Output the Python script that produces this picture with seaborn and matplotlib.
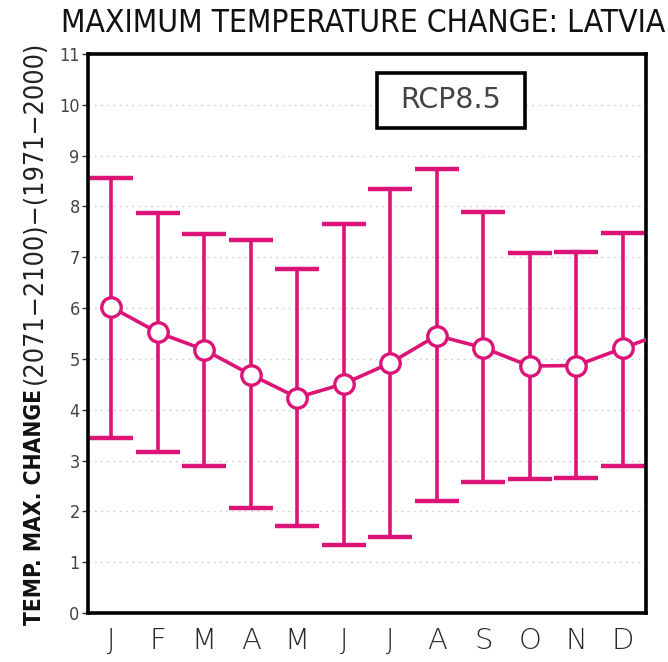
import matplotlib
matplotlib.use("Agg")
import matplotlib.pyplot as plt
from matplotlib.patches import Rectangle
import seaborn as sns
import numpy as np
import pandas as pd

# Monthly projected change in maximum temperature (RCP8.5), with ensemble range
months = ["J", "F", "M", "A", "M", "J", "J", "A", "S", "O", "N", "D"]
mean_change = [6.02, 5.52, 5.18, 4.69, 4.24, 4.51, 4.92, 5.46, 5.22, 4.86, 4.87, 5.21]
upper = [8.56, 7.87, 7.46, 7.34, 6.77, 7.66, 8.35, 8.74, 7.89, 7.09, 7.10, 7.48]
lower = [3.45, 3.17, 2.89, 2.07, 1.71, 1.34, 1.50, 2.21, 2.58, 2.63, 2.65, 2.89]
# the curve carries on towards the following month beyond the frame
next_value = 5.55

sns.set_theme(style="white")
plt.rcParams["font.family"] = ["DejaVu Sans"]
plt.rcParams["font.stretch"] = "condensed"

pink = "#DC1477"
narrow = dict(fontfamily=["DejaVu Sans"], fontstretch="condensed")
wide = dict(fontfamily=["DejaVu Sans"], fontstretch="normal")

fig = plt.figure(figsize=(6.68, 6.62), dpi=100)
ax = fig.add_axes([88 / 668, 1 - 613 / 662, 558 / 668, 559 / 662])

x = np.arange(1, 13)
df = pd.DataFrame({"month": x, "change": mean_change})

# connecting line, extended one step to the right and clipped by the axes
ax.plot(list(x) + [13], mean_change + [next_value], color=pink, lw=2.6, zorder=3,
        solid_capstyle="butt")

# ensemble ranges
yerr = [np.array(mean_change) - np.array(lower), np.array(upper) - np.array(mean_change)]
ax.errorbar(x, mean_change, yerr=yerr, fmt="none", ecolor=pink, elinewidth=2.6,
            capsize=15.5, capthick=3.2, zorder=2)

# monthly means as open circles
sns.lineplot(data=df, x="month", y="change", ax=ax, color=pink, lw=0,
             marker="o", markersize=14, markerfacecolor="white",
             markeredgecolor=pink, markeredgewidth=2.4, zorder=4)

ax.set_xlim(0.5, 12.5)
ax.set_ylim(0, 11)
ax.set_xticks(x)
ax.set_xticklabels(months, fontsize=21, color="#2a2a2a", fontweight="light", **wide)
ax.set_yticks(range(0, 12))
ax.set_yticklabels([str(v) for v in range(0, 12)], fontsize=13, color="#444444", **narrow)
ax.tick_params(axis="y", direction="out", length=4, width=1, color="#333333", pad=2, left=True)
ax.tick_params(axis="x", length=0, pad=10)

ax.grid(axis="y", color="#d4d4d4", linestyle=(0, (1.5, 3)), linewidth=1.0)
ax.set_axisbelow(True)
for s in ax.spines.values():
    s.set_visible(True)
    s.set_color("black")
    s.set_linewidth(2.6)

ax.set_xlabel("")
ax.set_ylabel("")

fig.text(363 / 668, 1 - 23 / 662, "MAXIMUM TEMPERATURE CHANGE: LATVIA",
         ha="center", va="center", fontsize=22.8, color="#111111", **narrow)

# y-axis title in two parts
fig.text(35 / 668, 1 - 507 / 662, "TEMP. MAX. CHANGE", rotation=90, ha="center",
         va="center", fontsize=16.3, fontweight="bold", color="#111111", **narrow)
fig.text(35 / 668, 1 - 212 / 662, "(2071\u22122100)\u2212(1971\u22122000)", rotation=90,
         ha="center", va="center", fontsize=19.3, color="#222222", **narrow)

# scenario label in a framed box
ax.add_patch(Rectangle((289 / 558, (613 - 128) / 559), 148 / 558, 55 / 559,
                       transform=ax.transAxes, facecolor="white", edgecolor="black",
                       linewidth=2.6, zorder=5))
ax.text((451 - 88) / 558, (613 - 100) / 559, "RCP8.5", transform=ax.transAxes,
        ha="center", va="center", fontsize=20.5, color="#444444", zorder=6, **wide)

fig.savefig("out.png", dpi=100)
